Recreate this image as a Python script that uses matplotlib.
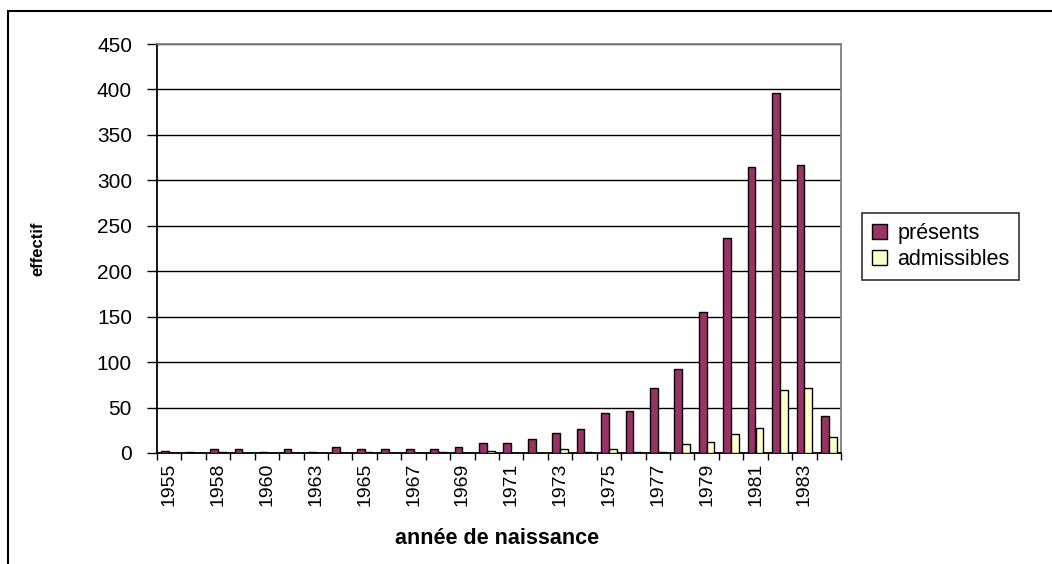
import numpy as np
import matplotlib.pyplot as plt
from matplotlib.patches import Rectangle

plt.rcParams['font.family'] = ['Liberation Sans', 'DejaVu Sans']

# categories (only every other one gets a label on the axis)
annees = ['1955', '1956', '1958', '1959', '1960', '1962', '1963', '1964',
          '1965', '1966', '1967', '1968', '1969', '1970', '1971', '1972',
          '1973', '1974', '1975', '1976', '1977', '1978', '1979', '1980',
          '1981', '1982', '1983', '1984']
presents = [2, 1, 4, 4, 1, 4, 1, 7, 4, 4, 4, 4, 7, 11, 11, 15,
            22, 26, 44, 46, 72, 92, 155, 237, 315, 396, 317, 41]
admissibles = [0, 0, 1, 0, 0, 0, 0, 0, 1, 0, 0, 1, 0, 2, 0, 0,
               4, 1, 4, 1, 1, 10, 12, 21, 27, 69, 72, 18]

fig = plt.figure(figsize=(10.52, 5.64), dpi=100)
ax = fig.add_axes([157/1052, 1 - 453/564, (841-157)/1052, (453-44)/564])

x = np.arange(len(annees))
w = 0.32
ax.bar(x - w/2, presents, w, color='#993366', edgecolor='black', linewidth=1,
       label='présents', zorder=3)
ax.bar(x + w/2, admissibles, w, color='#FFFFCC', edgecolor='black', linewidth=1,
       label='admissibles', zorder=3)

ax.set_xlim(-0.5, len(annees) - 0.5)
ax.set_ylim(0, 450)
ax.set_yticks(range(0, 451, 50))
ax.yaxis.grid(True, color='black', linewidth=1)
ax.set_axisbelow(True)

# labels on every second category, tick marks on category borders
ax.set_xticks(x[::2])
ax.set_xticklabels(annees[::2], rotation=90, fontsize=14)
ax.tick_params(axis='x', which='major', length=0, pad=7)
ax.set_xticks(np.arange(-0.5, len(annees), 1), minor=True)
ax.tick_params(axis='x', which='minor', length=5, width=1, direction='out')
ax.tick_params(axis='y', labelsize=15, length=7, width=1, direction='out', pad=11)

for s in ['left', 'bottom']:
    ax.spines[s].set_linewidth(1.3)
    ax.spines[s].set_color('black')
for s in ['top', 'right']:
    ax.spines[s].set_color('#808080')
    ax.spines[s].set_linewidth(1.3)

ax.set_xlabel('année de naissance', fontsize=15.5, fontweight='bold')
ax.xaxis.set_label_coords((497 - 157) / 684, (453 - 528) / 409)
ax.set_ylabel('effectif', fontsize=12, fontweight='bold')
ax.yaxis.set_label_coords((45 - 157) / 684, 0.5)

leg = fig.legend(loc='upper left', bbox_to_anchor=(862/1052, 1 - 213/564),
                 fontsize=15.5, frameon=True, fancybox=False, edgecolor='black',
                 handlelength=0.7, handleheight=0.7, handletextpad=0.5,
                 borderpad=0.45, labelspacing=0.25, borderaxespad=0)
leg.get_frame().set_linewidth(1.2)

fig.patches.append(Rectangle((8/1052, -0.05), 1.1, 1 - 11/564 + 0.05,
                             transform=fig.transFigure, fill=False,
                             edgecolor='black', linewidth=1.5))

fig.savefig('out.png', dpi=100)
